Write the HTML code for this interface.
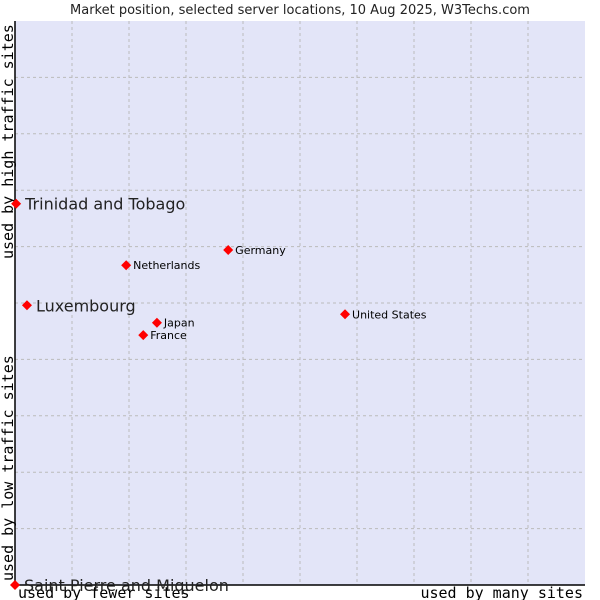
<!DOCTYPE html>
<html><head><meta charset="utf-8"><style>
body{margin:0;background:#fff;width:600px;height:600px;overflow:hidden}
svg{display:block}
text{font-family:"DejaVu Sans","Liberation Sans",sans-serif}
.mono{font-family:"DejaVu Sans Mono","Liberation Mono",monospace}
</style></head><body>
<svg id="chart" width="600" height="600">
<text x="300" y="14" text-anchor="middle" font-size="13" fill="#222">Market position, selected server locations, 10 Aug 2025, W3Techs.com</text>
<rect x="15" y="21" width="570" height="564" fill="#e3e5f8"/>
<g id="grid"></g>
<path d="M15 21 V585 H585" fill="none" stroke="#000" stroke-width="1.5"/>
<text class="mono" transform="translate(13,581) rotate(-90)" text-anchor="start" font-size="15">used by low traffic sites</text>
<text class="mono" transform="translate(13,259) rotate(-90)" text-anchor="start" font-size="15">used by high traffic sites</text>
<text class="mono" x="18" y="598" font-size="15">used by fewer sites</text>
<text class="mono" x="583" y="598" font-size="15" text-anchor="end">used by many sites</text>
<g id="points"></g>
</svg>
<script>
const names=["Trinidad and Tobago","Luxembourg","Netherlands","Germany","Japan","France","United States","Saint Pierre and Miquelon"];
const xVals=[0.2,2.1,19.5,37.4,24.9,22.5,57.9,0];
const yVals=[67.6,49.6,56.7,59.4,46.5,44.3,48.0,0];
const big=[true,true,false,false,false,false,false,true];
const X0=15,X1=585,Y0=585,Y1=21;
const sx=v=>X0+v/100*(X1-X0), sy=v=>Y0-v/100*(Y0-Y1);
const NS="http://www.w3.org/2000/svg";
const g=document.getElementById('grid');
for(let i=1;i<10;i++){
 const v=document.createElementNS(NS,'line');
 
 
 v.setAttribute('x1',sx(i*10));v.setAttribute('x2',sx(i*10));v.setAttribute('y1',Y1);v.setAttribute('y2',Y0);
 v.setAttribute('stroke','#bbb');v.setAttribute('stroke-dasharray','3,3');g.appendChild(v);
 const h=document.createElementNS(NS,'line');
 
 
 h.setAttribute('y1',sy(i*10));h.setAttribute('y2',sy(i*10));h.setAttribute('x1',X0);h.setAttribute('x2',X1);
 h.setAttribute('stroke','#bbb');h.setAttribute('stroke-dasharray','3,3');g.appendChild(h);
}
const p=document.getElementById('points');
names.forEach((n,i)=>{
 const x=sx(xVals[i]),y=sy(yVals[i]);
 const d=document.createElementNS(NS,'polygon');
 
 
 d.setAttribute('points',`${x},${y-5} ${x+5},${y} ${x},${y+5} ${x-5},${y}`);
 d.setAttribute('fill','#f00');p.appendChild(d);
 const t=document.createElementNS(NS,'text');
 
 
 t.setAttribute('x',x+(big[i]?9:7));t.setAttribute('y',y+(big[i]?6:4));
 t.setAttribute('font-size',big[i]?16:11);t.setAttribute('fill',big[i]?'#222':'#000');
 t.textContent=n;p.appendChild(t);
});
</script>
</body></html>
